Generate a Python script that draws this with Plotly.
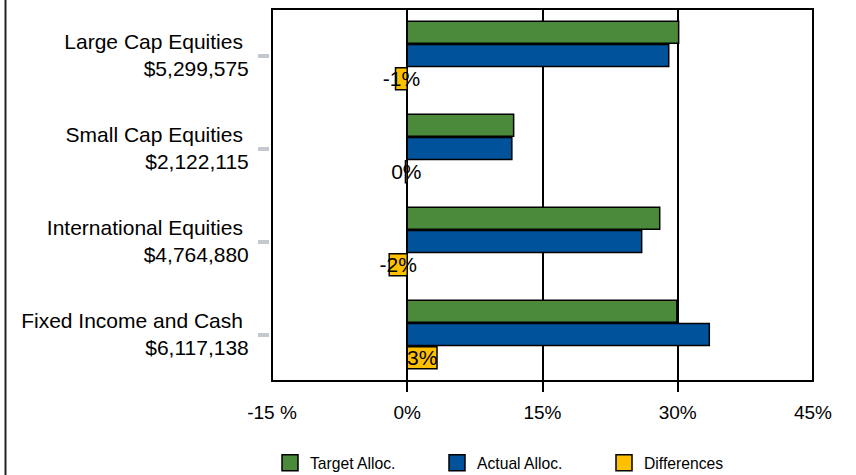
import plotly.graph_objects as go

categories = ["Large Cap Equities\u00a0<br>$5,299,575", "Small Cap Equities\u00a0<br>$2,122,115",
              "International Equities\u00a0<br>$4,764,880", "Fixed Income and Cash\u00a0<br>$6,117,138"]
target = [30.1, 11.8, 28.0, 29.9]
actual = [29.0, 11.6, 26.0, 33.5]
differences = [-1.3, -0.2, -2.0, 3.3]
diff_labels = [f"{round(v):.0f}%" for v in differences]
tick_vals = [-15, 0, 15, 30, 45]
tick_text = ["-15 %", "0%", "15%", "30%", "45%"]
series_names = ["Target Alloc.", "Actual Alloc.", "Differences"]
colors = ["#4b8a3b", "#00529b", "#ffc000"]

FONT = "Arial, Liberation Sans, sans-serif"
W, H = 856, 475
ML, MR, MT, MB = 0, 43, 9, 94
pw = W - ML - MR
ph = H - MT - MB

fig = go.Figure()
for name, vals, col in zip(series_names[:2], [target, actual], colors[:2]):
    fig.add_trace(go.Bar(y=categories, x=vals, orientation="h", name=name,
                         marker=dict(color=col, line=dict(color="black", width=1.5)),
                         showlegend=False))
fig.add_trace(go.Bar(y=categories, x=differences, orientation="h", name=series_names[2],
                     marker=dict(color=colors[2], line=dict(color="black", width=1.5)),
                     text=diff_labels, textposition="inside", insidetextanchor="middle",
                     textangle=0, constraintext="none",
                     textfont=dict(family=FONT, size=21, color="black"),
                     showlegend=False))
for name, col in zip(series_names, colors):
    fig.add_trace(go.Scatter(x=[None], y=[None], mode="markers", name=name,
                             marker=dict(symbol="square", size=18, color=col,
                                         line=dict(color="black", width=1.5))))

fig.update_layout(
    width=W, height=H,
    margin=dict(l=ML, r=MR, t=MT, b=MB, autoexpand=False),
    paper_bgcolor="white", plot_bgcolor="white",
    barmode="group", bargap=0.25, bargroupgap=0.06,
    font=dict(family=FONT, color="black"),
    xaxis=dict(domain=[(272 - ML) / pw, 1], range=[-15, 45], tickvals=tick_vals, ticktext=tick_text,
               ticks="", showgrid=True, gridcolor="black", gridwidth=1.5, zeroline=False,
               showline=False, tickfont=dict(size=19), ticklabelstandoff=18, automargin=False,
               minor=dict(tickvals=[0, 15, 30], ticks="outside", ticklen=10, tickwidth=1.5,
                          tickcolor="black", showgrid=False)),
    yaxis=dict(type="category", autorange="reversed", anchor="free", position=(269 - ML) / pw,
               ticks="outside", ticklen=11, tickwidth=4, tickcolor="#c3c9cf", automargin=False,
               showline=False, showgrid=False, tickfont=dict(size=21), ticklabelstandoff=5),
    legend=dict(orientation="h", x=(270 - ML) / pw, xanchor="left", y=-82 / ph, yanchor="middle",
                font=dict(size=15.7), entrywidth=122, entrywidthmode="pixels"),
    shapes=[
        dict(type="rect", xref="x domain", yref="y domain", x0=0, x1=1, y0=0, y1=1,
             line=dict(color="black", width=2), layer="above"),
        dict(type="line", xref="paper", yref="paper", x0=5.5 / pw, x1=5.5 / pw, y0=-MB / ph,
             y1=1 + MT / ph, line=dict(color="#222", width=2)),
    ],
)
fig.write_html("out.html")
